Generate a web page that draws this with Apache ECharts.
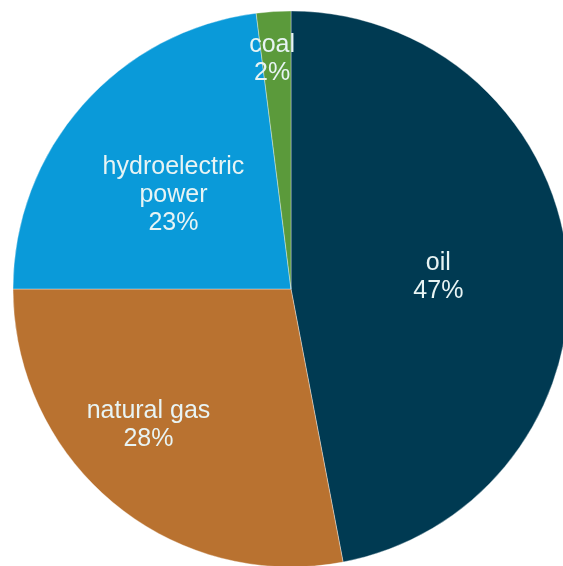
<!DOCTYPE html>
<html>
<head>
<meta charset="utf-8">
<script src="https://cdn.jsdelivr.net/npm/echarts@6/dist/echarts.min.js"></script>
<style>
html,body{margin:0;padding:0;background:#fff;}
#c{width:563px;height:566px;}
</style>
</head>
<body>
<div id="c"></div>
<script>
const categories = ['oil', 'natural gas', 'hydroelectric\npower', 'coal'];
const values = [47, 28, 23, 2];
const colors = ['#003a52', '#b97230', '#0a9ad9', '#5b9a3b'];
const labelOffsets = [[6, 1], [-52, 27], [-11, 0], [-10, -88]];

const chart = echarts.init(document.getElementById('c'));
chart.setOption({
  animation: false,
  series: [{
    type: 'pie',
    center: [291, 289],
    radius: 278,
    startAngle: 90,
    clockwise: true,
    avoidLabelOverlap: false,
    itemStyle: { borderColor: 'rgba(255,255,255,0.6)', borderWidth: 0.6 },
    label: {
      show: true,
      position: 'inside',
      color: '#e8f4f4',
      fontFamily: 'Liberation Sans, Arial, sans-serif',
      fontSize: 25,
      lineHeight: 28,
      align: 'center',
      formatter: p => p.name + '\n' + p.value + '%'
    },
    labelLine: { show: false },
    emphasis: { disabled: true },
    data: categories.map((n, i) => ({
      name: n,
      value: values[i],
      itemStyle: { color: colors[i] },
      label: { offset: labelOffsets[i] }
    }))
  }]
});
</script>
</body>
</html>
